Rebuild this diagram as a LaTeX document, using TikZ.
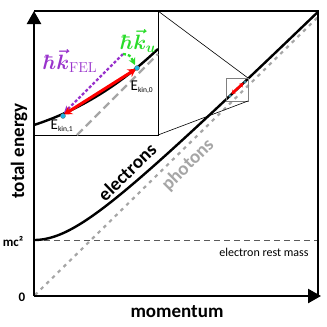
\documentclass[tikz,border=0pt]{standalone}
\usepackage[no-math]{fontspec}
\setmainfont{Carlito}
\usepackage{amsmath}
\usetikzlibrary{arrows.meta}
\definecolor{phgray}{RGB}{166,166,166}
\definecolor{restgray}{RGB}{90,90,90}
\definecolor{dotcyan}{RGB}{30,180,230}
\definecolor{felpurple}{RGB}{153,51,204}
\definecolor{ugreen}{RGB}{40,220,40}
\tikzset{
  axisline/.style={line width=2.5pt, line join=miter},
  axtip/.style={-{Triangle[length=13pt,width=14pt]}},
  elcurve/.style={line width=2.4pt},
  phline/.style={phgray, line width=2.2pt, dash pattern=on 3.5pt off 4.5pt},
  phbig/.style={phgray, line width=2.4pt, dash pattern=on 8pt off 4.5pt},
  thinframe/.style={line width=0.7pt},
  lbl/.style={font=\bfseries\fontsize{19}{22}\selectfont, inner sep=0pt},
  cdot/.style={fill=dotcyan, draw=black!60, line width=0.3pt},
  ekin/.style={font=\fontsize{15}{16}\selectfont, inner sep=0pt}
}
\begin{document}
\begin{tikzpicture}[x=1pt,y=-1pt]
\useasboundingbox (0,0) rectangle (327,327);
% rest mass line
\draw[restgray, line width=1pt, dash pattern=on 6pt off 4pt] (34,240) -- (318,240);
% photon line
\draw[phline] (35,295) -- (318,17);
% electron curve
\draw[elcurve] plot[domain=0:284, samples=120] ({34+\x},{296-10*sqrt((0.0981*\x)^2+31.36)});
% frame and axes
\draw[axisline] (34,11) -- (318,11) -- (318,296);
\draw[axisline, axtip] (34,296) -- (34,11);
\draw[axisline, axtip] (34,296) -- (321,296);
% inset frame
\draw[thinframe] (34,135) -- (158,135) -- (158,11);
% small box and connectors
\draw[gray, line width=0.9pt] (226,78) rectangle (248,101);
\coordinate (sbtr) at (248,78);
\coordinate (sbbr) at (248,101);
\coordinate (intr) at (158,11);
\coordinate (inbr) at (158,135);
\draw[line width=0.6pt] (intr) -- (sbtr);
\draw[line width=0.6pt] (inbr) -- (sbbr);
% small box content
\draw[red, line width=2.6pt, {Stealth[length=4pt,width=5pt]}-{Stealth[length=4pt,width=5pt]}] (231.5,94) -- (243.5,83);
\fill[cdot] (230,96) circle (1.4);
\fill[cdot] (245,82) circle (1.4);
% inset content
\draw[phbig] (77,135) -- (158,54);
\draw[elcurve] (34,125) .. controls (80,110) and (120,85) .. (158,49);
\draw[felpurple, line width=2.3pt, dash pattern=on 3pt off 2pt, -{Stealth[length=7pt,width=7pt]}] (123,54) -- (64,113);
\draw[ugreen, line width=2.3pt, dash pattern=on 3pt off 2pt, -{Stealth[length=7pt,width=7pt]}] (123,54) .. controls (130,55) .. (135,65);
\draw[red, line width=3pt, {Stealth[length=8pt,width=9pt]}-{Stealth[length=8pt,width=9pt]}] (64,114.5) -- (136,69);
\fill[cdot] (63,116) circle (2.5);
\fill[cdot] (137,68) circle (2.5);
% labels
\node[lbl, rotate=90] (ylab) at (19,151) {total energy};
\node[lbl] (xlab) at (177,312) {momentum};
\node[font=\bfseries\fontsize{13}{14}\selectfont, inner sep=0pt] (mc) at (13,241) {mc²};
\node[font=\bfseries\fontsize{13}{14}\selectfont, inner sep=0pt] (zero) at (22,297) {0};
\node[font=\fontsize{12}{14}\selectfont, inner sep=0pt] (rest) at (264,252) {electron rest mass};
\node[lbl, rotate=44] (elab) at (127,172) {electrons};
\node[lbl, rotate=45, text=phgray] (plab) at (188,165) {photons};
\node[ekin] (e0) at (142,87) {E\textsubscript{\fontsize{7.5}{8}\selectfont kin,0}};
\node[ekin] (e1) at (62,126) {E\textsubscript{\fontsize{7.5}{8}\selectfont kin,1}};
\node[text=felpurple, inner sep=0pt, font=\fontsize{20}{22}\selectfont] (kfel) at (70,61) {$\boldsymbol{\hbar\vec{k}}_{\mathrm{FEL}}$};
\node[text=ugreen, inner sep=0pt, font=\fontsize{20}{22}\selectfont] (ku) at (138,41) {$\boldsymbol{\hbar\vec{k}_{u}}$};
\end{tikzpicture}
\end{document}
